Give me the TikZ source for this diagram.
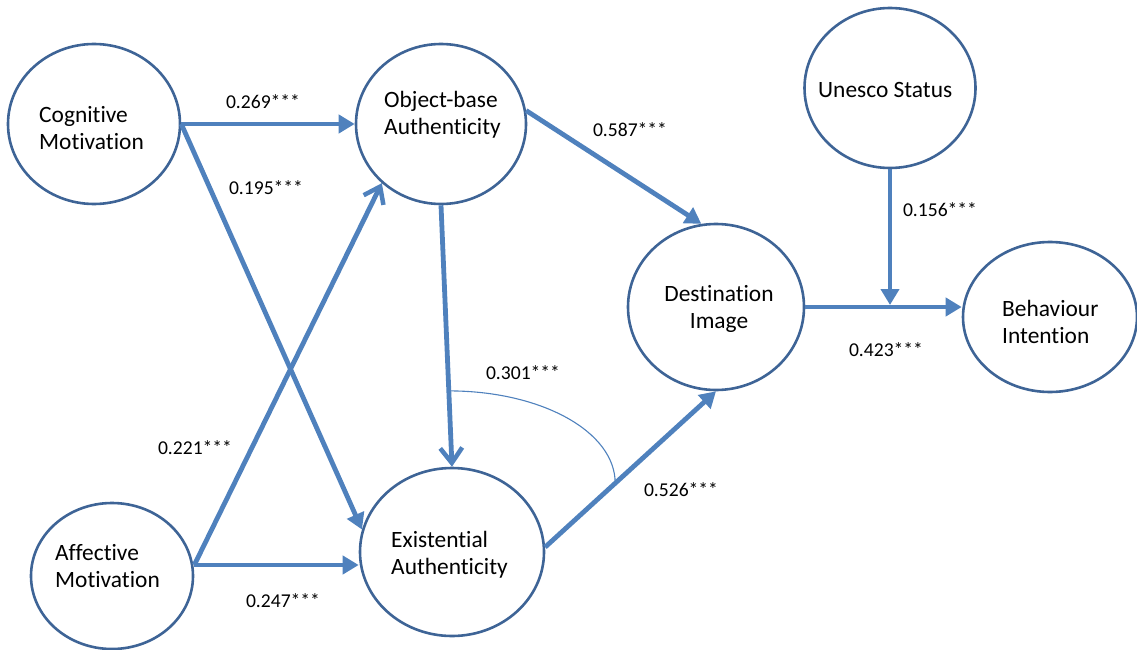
\documentclass[tikz,border=0pt]{standalone}
\usepackage{fontspec}
\setmainfont{Carlito}[Ligatures=CommonOff]
\usetikzlibrary{shapes.geometric,arrows.meta}
\definecolor{ringblue}{RGB}{62,100,150}
\definecolor{arrowblue}{RGB}{79,129,189}
\tikzset{
  construct/.style={draw=ringblue,line width=2.6pt,ellipse,inner sep=0pt},
  ctext/.style={align=left,inner sep=0pt,anchor=west,
    font=\fontsize{23.4}{27}\selectfont,text=black},
  path/.style={draw=arrowblue,line width=4.8pt,-{Triangle[length=16pt,width=18pt]}},
  pathv/.style={draw=arrowblue,line width=4.8pt,-{Straight Barb[length=15pt,width=22pt,line width=4.5pt]}},
  coef/.style={font=\fontsize{19.6}{23}\selectfont,text=black,inner sep=0pt},
  modline/.style={draw=arrowblue,line width=1.1pt}
}
\begin{document}
\begin{tikzpicture}[x=1pt,y=-1pt]
\useasboundingbox (0,0) rectangle (1137,650);
% constructs
\node[construct,minimum width=172pt,minimum height=160pt] (cog) at (94,124) {};
\node[construct,minimum width=170pt,minimum height=160pt] (obj) at (441,124) {};
\node[construct,minimum width=171pt,minimum height=160pt] (une) at (890,88) {};
\node[construct,minimum width=176pt,minimum height=166pt] (dst) at (716,307) {};
\node[construct,minimum width=174pt,minimum height=150pt] (beh) at (1050,317) {};
\node[construct,minimum width=162pt,minimum height=146pt] (aff) at (112,576) {};
\node[construct,minimum width=184pt,minimum height=168pt] (exi) at (452,552) {};
% construct labels
\node[ctext] (cogT) at (39,128) {Cognitive\\Motivation};
\node[ctext] (objT) at (384,114.5) {Object-base\\Authenticity};
\node[ctext] (uneT) at (818,90) {Unesco Status};
\node[ctext,align=center,anchor=center] (dstT) at (719,309) {Destination\\Image};
\node[ctext] (behT) at (1002,321.5) {Behaviour\\Intention};
\node[ctext] (affT) at (55,566) {Affective\\Motivation};
\node[ctext] (exiT) at (391,555) {Existential\\Authenticity};

% paths
\coordinate (affE) at ([yshift=11pt]aff.east);
\draw[path] (cog.east) -- (obj.west);
\draw[path] (cog.east) -- (exi.166);
\draw[pathv] (affE) -- (obj.225);
\draw[path] (affE) -- (affE -| exi.west);
\draw[pathv] (obj.south) -- coordinate[pos=0.71] (mA) (exi.north);
\draw[path] (obj.9) -- (dst.100);
\draw[path] (exi.3) -- coordinate[pos=0.41] (mB) (dst.south);
\draw[path] (dst.east) -- (dst.east -| beh.west);
\draw[path,shorten >=2pt] (une.south) -- (une.south |- dst.east);
\draw[modline] (mA) .. controls +(92,0) and +(0,-52) .. (mB);

% coefficients
\node[coef] (c1) at (263,102) {0.269***};
\node[coef] (c2) at (266,188) {0.195***};
\node[coef] (c3) at (630,130) {0.587***};
\node[coef] (c4) at (940,210) {0.156***};
\node[coef] (c5) at (886,350) {0.423***};
\node[coef] (c6) at (523,373) {0.301***};
\node[coef] (c7) at (195,448) {0.221***};
\node[coef] (c8) at (681,490) {0.526***};
\node[coef] (c9) at (283,601) {0.247***};
\end{tikzpicture}
\end{document}
